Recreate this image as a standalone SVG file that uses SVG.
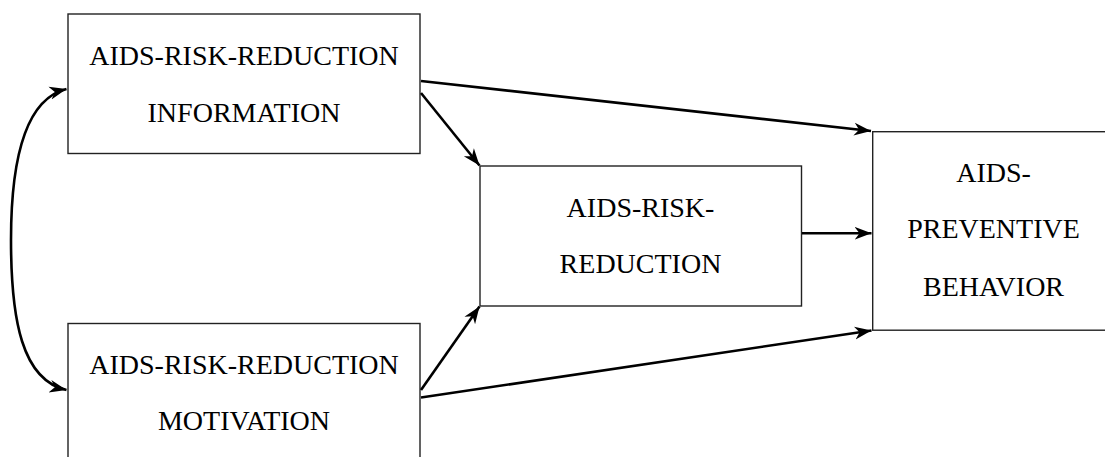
<svg xmlns="http://www.w3.org/2000/svg" width="1105" height="457" viewBox="0 0 1105 457">
<style>
.box{fill:#fff;stroke:#222;stroke-width:1.4}
.t{font-family:"Liberation Serif","Times New Roman",serif;font-size:28px;fill:#000;text-anchor:middle}
.c{fill:none;stroke:#000;stroke-width:2.6}
</style>
<defs>
<marker id="ah" markerUnits="userSpaceOnUse" markerWidth="18" markerHeight="16" viewBox="0 0 18 16" refX="17" refY="8" orient="auto">
<path d="M0,1.5 L17,8 L0,14.5 L5,8 Z" fill="#000"/>
</marker>
<marker id="ahs" markerUnits="userSpaceOnUse" markerWidth="18" markerHeight="16" viewBox="0 0 18 16" refX="1" refY="8" orient="auto">
<path d="M18,1.5 L1,8 L18,14.5 L13,8 Z" fill="#000"/>
</marker>
</defs>
<rect width="1105" height="457" fill="#fff"/>
<g id="info">
<rect class="box" x="68" y="14" width="352" height="139.5"/>
<text class="t" x="244" y="65">AIDS-RISK-REDUCTION</text>
<text class="t" x="244" y="121.5">INFORMATION</text>
</g>
<g id="motivation">
<rect class="box" x="68" y="323.5" width="352" height="150"/>
<text class="t" x="244" y="373.5">AIDS-RISK-REDUCTION</text>
<text class="t" x="244" y="430">MOTIVATION</text>
</g>
<g id="skills">
<rect class="box" x="480" y="166" width="321.5" height="140"/>
<text class="t" x="640.5" y="216.5">AIDS-RISK-</text>
<text class="t" x="640.5" y="273.3">REDUCTION</text>
</g>
<g id="behavior">
<rect class="box" x="872.7" y="131.7" width="260" height="198.5"/>
<text class="t" x="993.5" y="181.7">AIDS-</text>
<text class="t" x="993.5" y="238.3">PREVENTIVE</text>
<text class="t" x="993.5" y="296">BEHAVIOR</text>
</g>
<g id="connectors">
<path class="c" d="M421,81 L871,131" marker-end="url(#ah)"/>
<path class="c" d="M421,93 L479.5,165.5" marker-end="url(#ah)"/>
<path class="c" d="M802,233.3 L871.5,233.3" marker-end="url(#ah)"/>
<path class="c" d="M421,390 L479.5,306.5" marker-end="url(#ah)"/>
<path class="c" d="M421,397.5 L871.5,330.5" marker-end="url(#ah)"/>
<path class="c" d="M66.5,390 C22,380 11,320 11,240 C11,170 22,100 66.5,89" marker-start="url(#ahs)" marker-end="url(#ah)"/>
</g>
</svg>
